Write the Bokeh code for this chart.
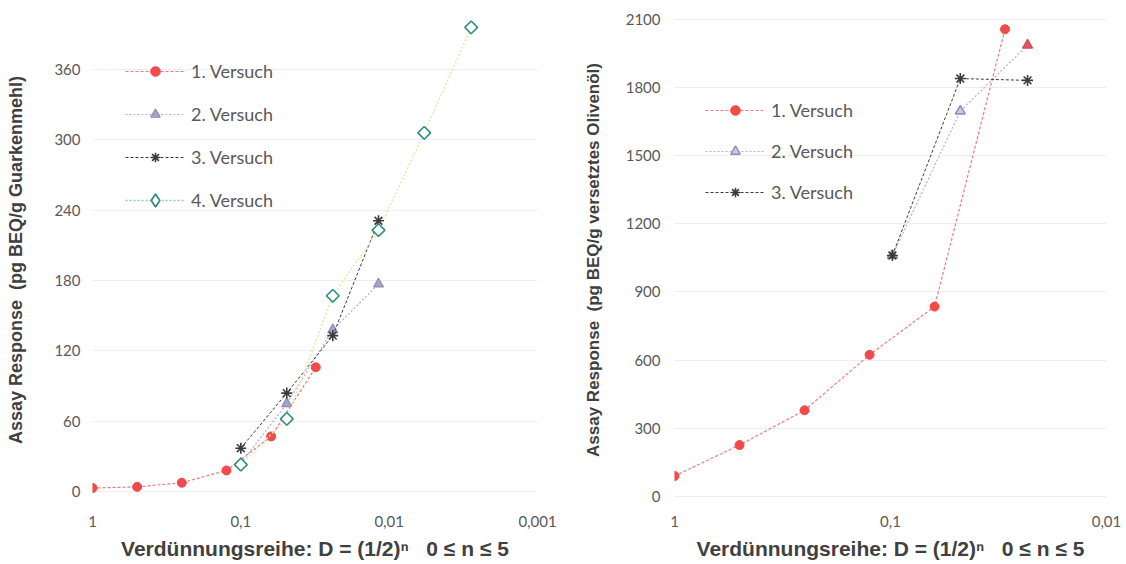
import math
from bokeh.plotting import figure
from bokeh.layouts import row
from bokeh.models import Range1d, FixedTicker, Legend, LegendItem, CustomJSTickFormatter
from bokeh.embed import file_html
from bokeh.resources import INLINE

# ---------------- data: left panel (Guarkenmehl) ----------------
left_x1 = [1, 0.5, 0.25, 0.125, 0.0625, 0.03125]
left_y1 = [3, 4, 7.5, 18, 47, 106]
left_x2 = [0.1, 0.049, 0.024, 0.0118]
left_y2 = [24, 75, 138, 177]
left_x3 = [0.1, 0.049, 0.024, 0.0118]
left_y3 = [37, 84, 133, 231]
left_x4 = [0.1, 0.049, 0.024, 0.0118, 0.0058, 0.0028]
left_y4 = [23, 62, 167, 223, 306, 396]
left_yticks = [0, 60, 120, 180, 240, 300, 360]
left_xticks = [1, 0.1, 0.01, 0.001]

# ---------------- data: right panel (versetztes Olivenöl) ----------------
right_x1 = [1, 0.5, 0.25, 0.125, 0.0625, 0.0295]
right_y1 = [90, 226, 379, 623, 835, 2055]
right_x2 = [0.098, 0.0475, 0.0232]
right_y2 = [1060, 1695, 1985]
right_x3 = [0.098, 0.0475, 0.0232]
right_y3 = [1060, 1838, 1830]
right_yticks = [0, 300, 600, 900, 1200, 1500, 1800, 2100]
right_xticks = [1, 0.1, 0.01]

labels = ["1. Versuch", "2. Versuch", "3. Versuch", "4. Versuch"]
NB = "\u00a0"
x_title = "Verdünnungsreihe: D = (1/2)\u207f" + NB + NB + " 0 \u2264 n \u2264 5"
left_ytitle = "Assay Response" + NB + " (pg BEQ/g Guarkenmehl)"
right_ytitle = "Assay Response" + NB + " (pg BEQ/g versetztes Olivenöl)"

TICK_FONT = "Lato"
TITLE_FONT = "Liberation Sans"
GREY = "#595959"

RED = "#f04a4a"
RED_LINE = "#f07a7a"
LAV_FILL = "#a4a4c6"
LAV_LINE = "#8c8cb6"
LAV_DASH = "#b4aed4"
DARK = "#3c3c3c"
TEAL = "#2f8f7e"
TEAL_LINE = "#8ccbbb"
PALE = "#e6e8a8"

fmt = CustomJSTickFormatter(code="return tick.toString().replace('.', ',');")


def base_fig(width, height, xr, yr, yticks, xticks, bl, br, bt, bb,
             ytitle, ytitle_size, ystandoff, als):
    p = figure(width=width, height=height, x_axis_type="log",
               x_range=xr, y_range=yr, output_backend="svg",
               toolbar_location=None, min_border_left=bl, min_border_right=br,
               min_border_top=bt, min_border_bottom=bb)
    p.outline_line_color = None
    p.background_fill_color = "white"
    p.border_fill_color = "white"
    p.xgrid.visible = False
    p.ygrid.grid_line_color = "#ededed"
    p.ygrid.grid_line_width = 1
    p.ygrid.ticker = FixedTicker(ticks=yticks)
    p.yaxis.ticker = FixedTicker(ticks=yticks)
    p.xaxis.ticker = FixedTicker(ticks=xticks)
    p.xaxis.formatter = fmt
    for ax in (p.xaxis[0], p.yaxis[0]):
        ax.axis_line_color = None
        ax.major_tick_line_color = None
        ax.minor_tick_line_color = None
        ax.major_label_text_font = TICK_FONT
        ax.major_label_text_font_size = "15px"
        ax.major_label_text_color = GREY
        ax.axis_label_text_font = TITLE_FONT
        ax.axis_label_text_font_style = "bold"
        ax.axis_label_text_color = "#404040"
    p.xaxis.major_label_standoff = 6
    p.yaxis.major_label_standoff = ystandoff
    p.xaxis.axis_label = x_title
    p.xaxis.axis_label_text_font_size = "21px"
    p.xaxis.axis_label_standoff = 7
    p.yaxis.axis_label = ytitle
    p.yaxis.axis_label_text_font_size = ytitle_size
    p.yaxis.axis_label_standoff = als
    return p


def style_legend(lg, spacing, gh):
    lg.background_fill_alpha = 0
    lg.border_line_color = None
    lg.padding = 0
    lg.margin = 0
    lg.spacing = spacing
    lg.glyph_width = 60
    lg.glyph_height = gh
    lg.label_height = gh
    lg.label_standoff = 6
    lg.label_text_font = TICK_FONT
    lg.label_text_font_size = "18px"
    lg.label_text_color = GREY
    lg.inactive_fill_alpha = 0


DIAMOND_ANGLE = math.pi / 4

# ---------------- left figure ----------------
L = base_fig(570, 564, Range1d(1, 0.001), Range1d(-10.2, 405.3),
             left_yticks, left_xticks, 92, 33, 16, 61, left_ytitle, "18px", 6, 25)

l1 = L.line(left_x1, left_y1, line_color=RED_LINE, line_dash="3 2", line_width=1.2)
s1 = L.scatter(left_x1, left_y1, marker="circle", size=9, fill_color=RED, line_color=RED)
l2 = L.line(left_x2, left_y2, line_color=LAV_DASH, line_dash="2 2", line_width=1.2)
s2 = L.scatter(left_x2, left_y2, marker="triangle", size=10, fill_color=LAV_FILL,
               line_color=LAV_LINE, line_width=1.2)
l3 = L.line(left_x3, left_y3, line_color=DARK, line_dash="3 2", line_width=1)
s3 = L.scatter(left_x3, left_y3, marker="asterisk", size=11, line_color=DARK, line_width=1.6)
L.line(left_x4, left_y4, line_color=PALE, line_dash="2 2", line_width=1.5)
L.scatter(left_x4, left_y4, marker="square", size=9, angle=DIAMOND_ANGLE,
          fill_color="white", line_color=TEAL, line_width=1.6)
# legend-only (hidden) glyphs for series 4
l4 = L.line(left_x4, left_y4, line_color=TEAL_LINE, line_dash="2 2", line_width=1.5,
            visible=False)
s4 = L.scatter(left_x4, left_y4, marker="diamond", size=14, fill_color="white",
               line_color=TEAL, line_width=1.8, visible=False)

leg_l = Legend(items=[LegendItem(label=labels[0], renderers=[l1, s1]),
                      LegendItem(label=labels[1], renderers=[l2, s2]),
                      LegendItem(label=labels[2], renderers=[l3, s3])],
               location=(33, 334), orientation="vertical")
style_legend(leg_l, 19, 24)
L.add_layout(leg_l, "center")

leg_l4 = Legend(items=[LegendItem(label=labels[3], renderers=[l4, s4])],
                location=(33, 287), orientation="vertical")
style_legend(leg_l4, 0, 32)
L.add_layout(leg_l4, "center")

# ---------------- right figure ----------------
R = base_fig(556, 564, Range1d(1, 0.01), Range1d(-31, 2111),
             right_yticks, right_xticks, 104, 20, 16, 61, right_ytitle, "17px", 8, 20)

r1 = R.line(right_x1, right_y1, line_color=RED_LINE, line_dash="3 2", line_width=1.2)
rs1 = R.scatter(right_x1, right_y1, marker="circle", size=9, fill_color=RED, line_color=RED)
r2 = R.line(right_x2, right_y2, line_color=LAV_DASH, line_dash="2 2", line_width=1.2)
rs2 = R.scatter(right_x2[:-1], right_y2[:-1], marker="triangle", size=10, fill_color="#c9c6e2",
                line_color=LAV_LINE, line_width=1.4)
R.scatter(right_x2[-1:], right_y2[-1:], marker="triangle", size=10, fill_color="#e05565",
          line_color="#d84858", line_width=1.2)
r3 = R.line(right_x3, right_y3, line_color=DARK, line_dash="3 2", line_width=1)
rs3 = R.scatter(right_x3, right_y3, marker="asterisk", size=11, line_color=DARK, line_width=1.6)

leg_r = Legend(items=[LegendItem(label=labels[0], renderers=[r1, rs1]),
                      LegendItem(label=labels[1], renderers=[r2, rs2]),
                      LegendItem(label=labels[2], renderers=[r3, rs3])],
               location=(31, 299), orientation="vertical")
style_legend(leg_r, 17, 24)
R.add_layout(leg_r, "center")

layout = row(L, R)
open("out.html", "w").write(file_html(layout, INLINE))
